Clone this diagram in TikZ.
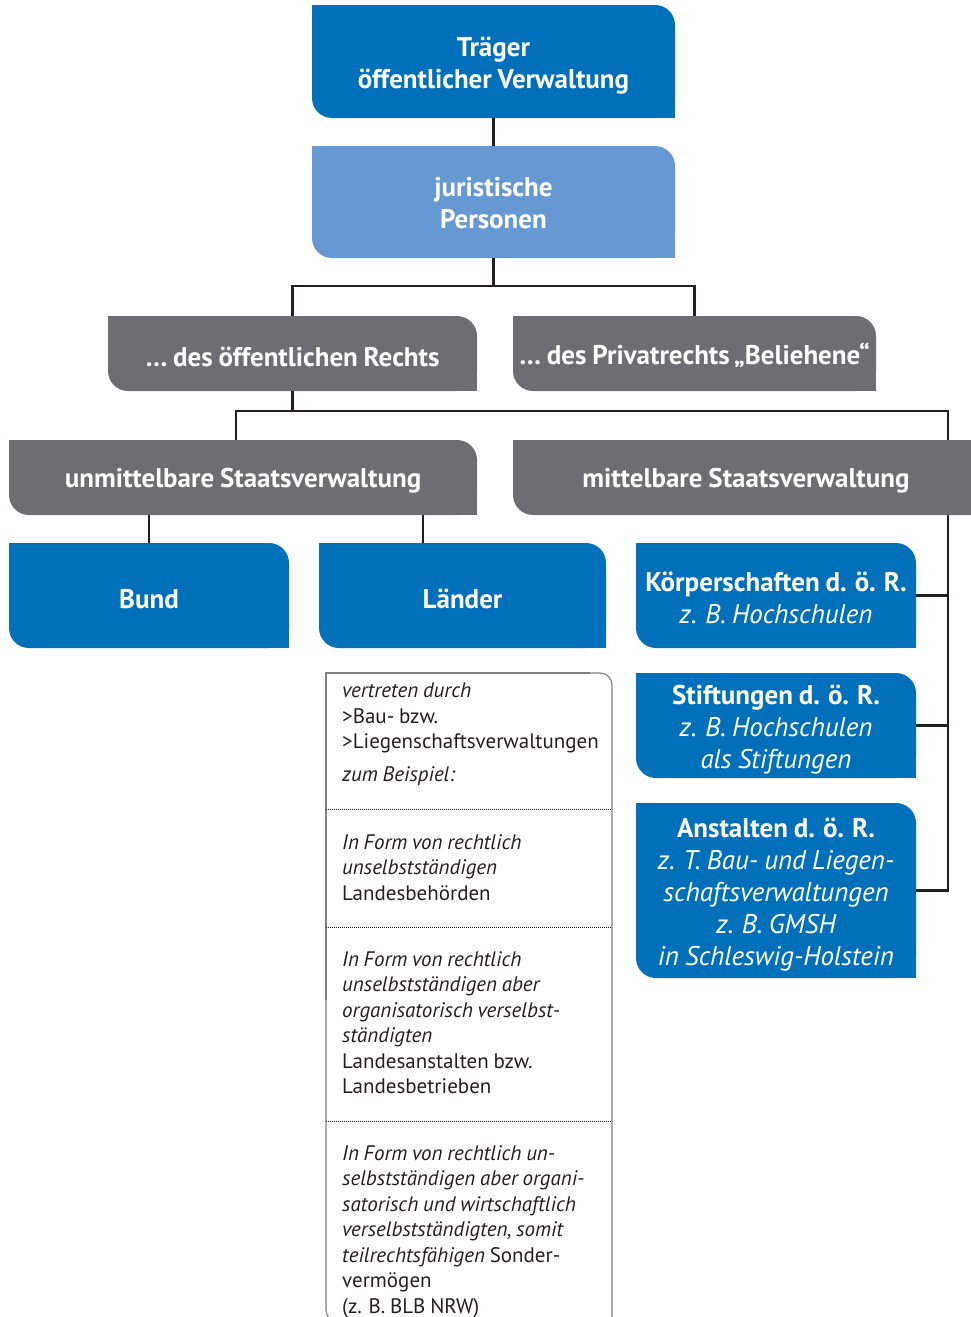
\documentclass[tikz,border=0pt]{standalone}
\usepackage{fontspec}
\setmainfont[WordSpace=0.85]{PT Sans}
\definecolor{blueA}{RGB}{0,112,186}
\definecolor{blueB}{RGB}{102,153,211}
\definecolor{grayA}{RGB}{109,110,113}
\definecolor{lineC}{RGB}{35,31,32}
\definecolor{frameC}{RGB}{128,128,128}

% square off the top left and bottom right corner of a box
\newcommand{\squareoff}[2]{%
  \fill[#2] (#1.north west) rectangle ([xshift=22pt,yshift=-22pt]#1.north west);
  \fill[#2] (#1.south east) rectangle ([xshift=-22pt,yshift=22pt]#1.south east);}
\newcommand{\ex}[1]{{\mdseries\itshape #1}}
\newcommand{\lift}[1]{\rule{0pt}{#1pt}}

\tikzset{
  box/.style={rectangle, rounded corners=20pt, inner sep=0pt, text=white, align=center,
    font=\fontsize{27}{32}\selectfont\bfseries, execute at begin node={\rule{0pt}{26pt}}},
  bluebox/.style={box, fill=blueA},
  lightbox/.style={box, fill=blueB},
  graybox/.style={box, fill=grayA},
  note/.style={anchor=north west, inner sep=0pt, align=left, text=lineC,
    font=\fontsize{21}{25.5}\selectfont},
  link/.style={draw=lineC, line width=2.4pt},
}

\begin{document}
\begin{tikzpicture}[x=1pt,y=-1pt]
 \clip (0,0) rectangle (971,1317);
 % boxes
 \node[bluebox, minimum width=363pt, minimum height=113pt] (traeger) at (493.5,61.5) {\lift{28}Träger\\öffentlicher Verwaltung};
 \node[lightbox, minimum width=363pt, minimum height=112pt] (jur) at (493.5,202) {\lift{22}juristische\\Personen};
 \node[graybox, minimum width=369pt, minimum height=75pt] (oeR) at (292.5,353.5) {… des öffentlichen Rechts};
 \node[graybox, minimum width=363pt, minimum height=75pt] (priv) at (694.5,353.5) {… des Privatrechts\,„Beliehene“};
 \node[graybox, minimum width=468pt, minimum height=75pt] (unm) at (243,477.5) {unmittelbare Staatsverwaltung};
 \node[graybox, minimum width=482pt, minimum height=75pt] (mitt) at (754,477.5) {mittelbare Staatsverwaltung\hspace*{16pt}};
 \node[bluebox, minimum width=280pt, minimum height=105pt] (bund) at (149,595.5) {Bund};
 \node[bluebox, minimum width=287pt, minimum height=105pt] (laender) at (462.5,595.5) {Länder};
 \node[bluebox, minimum width=280pt, minimum height=105pt] (koerp) at (776,595.5) {\lift{24}Körperschaften d. ö. R.\\\ex{z. B. Hochschulen}};
 \node[bluebox, minimum width=280pt, minimum height=105pt] (stift) at (776,725.5) {\lift{28}Stiftungen d. ö. R.\\\ex{z. B. Hochschulen}\\\ex{als Stiftungen}};
 \node[bluebox, minimum width=280pt, minimum height=175pt] (anst) at (776,890.5) {\lift{28}Anstalten d. ö. R.\\\ex{z. T. Bau- und Liegen-}\\\ex{schaftsverwaltungen}\\\ex{z. B. GMSH}\\\ex{in Schleswig-Holstein}};
 \squareoff{traeger}{blueA}
 \squareoff{jur}{blueB}
 \squareoff{oeR}{grayA}
 \squareoff{priv}{grayA}
 \squareoff{unm}{grayA}
 \squareoff{mitt}{grayA}
 \squareoff{bund}{blueA}
 \squareoff{laender}{blueA}
 \squareoff{koerp}{blueA}
 \squareoff{stift}{blueA}
 \squareoff{anst}{blueA}

 % Laender text frame
 \draw[frameC, line width=1.2pt, rounded corners=12pt] (350,1322) -- (326,1322) -- (326,1000);
 \draw[frameC, line width=1.2pt] (326,1000) -- (326,673) -- (590,673);
 \draw[frameC, line width=1.2pt, rounded corners=12pt] (585,673) -- (612,673) -- (612,1330);
 \foreach \y in {809,927,1121}
   \draw[lineC, line width=0.9pt, dash pattern=on 0.9pt off 1.1pt] (326,\y) -- (612,\y);
 \node[note] (n1) at (342,683) {\textit{vertreten durch}\\>Bau- bzw.\\>Liegenschaftsverwaltungen\\[7pt]\textit{zum Beispiel:}};
 \node[note] (n2) at (342,834) {\textit{In Form von rechtlich}\\\textit{unselbstständigen}\\Landesbehörden};
 \node[note] (n3) at (342,951) {\textit{In Form von rechtlich}\\\textit{unselbstständigen aber}\\\textit{organisatorisch verselbst-}\\\textit{ständigten}\\Landesanstalten bzw.\\Landesbetrieben};
 \node[note] (n4) at (342,1145) {\textit{In Form von rechtlich un-}\\\textit{selbstständigen aber organi-}\\\textit{satorisch und wirtschaftlich}\\\textit{verselbstständigten, somit}\\\textit{teilrechtsfähigen} Sonder-\\vermögen\\(z. B. BLB NRW)};

 % connectors
 \coordinate (fork1) at (493.5,286);
 \coordinate (fork2) at (292.5,411);
 \coordinate (bus) at (948,411);
 \draw[link] (traeger) -- (jur);
 \draw[link] (jur) -- (fork1);
 \draw[link] (oeR.north) |- (fork1) -| (priv.north);
 \draw[link] (oeR) -- (fork2);
 \draw[link] ([xshift=-7pt]unm.north) |- (bus) -- (bus |- mitt.north);
 \draw[link] (bus |- mitt.south) |- (anst.east);
 \draw[link] (koerp.east) -- (koerp.east -| bus);
 \draw[link] (stift.east) -- (stift.east -| bus);
 \draw[link] (bund.north) -- (bund.north |- unm.south);
 \draw[link] ([xshift=-39.5pt]laender.north) -- ([xshift=-39.5pt]laender.north |- unm.south);
\end{tikzpicture}
\end{document}
